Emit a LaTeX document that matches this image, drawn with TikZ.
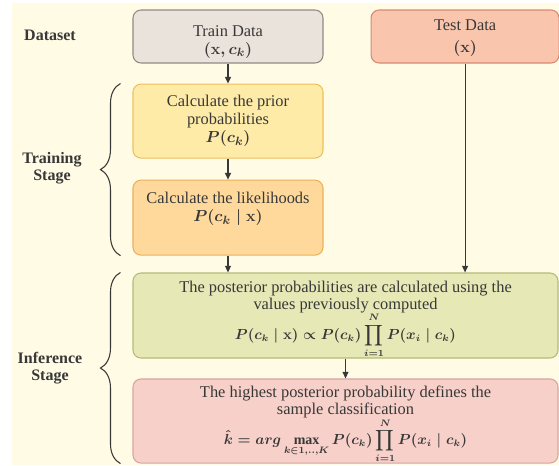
\documentclass[tikz,border=0pt]{standalone}
\usepackage{amsmath}
\usepackage{fontspec}
\setmainfont{Liberation Serif}
\usepackage{tikz}
\usetikzlibrary{arrows.meta,positioning,decorations.pathreplacing,calc}
\definecolor{cream}{HTML}{FFFBE5}
\definecolor{trainfill}{HTML}{EAE3DB}
\definecolor{trainline}{HTML}{908A85}
\definecolor{testfill}{HTML}{F9C5AD}
\definecolor{testline}{HTML}{D98872}
\definecolor{priorfill}{HTML}{FFEBA8}
\definecolor{priorline}{HTML}{EEC060}
\definecolor{likfill}{HTML}{FED99B}
\definecolor{likline}{HTML}{EBB15C}
\definecolor{postfill}{HTML}{E6E8B6}
\definecolor{postline}{HTML}{B5BB78}
\definecolor{decfill}{HTML}{F6D0C9}
\definecolor{decline}{HTML}{D9A5A0}
\definecolor{ink}{HTML}{383838}
\newcommand\tightlines{\lineskiplimit-20pt\relax}
\newcommand\eqsize{\fontsize{10.5}{12}\selectfont}

\begin{document}
\begin{tikzpicture}[x=0.75pt,y=-0.75pt,
  box/.style={rectangle,draw,rounded corners=6pt,line width=0.8pt,align=center,inner sep=2pt,
    text=ink,font=\fontsize{12.3}{13.5}\selectfont\boldmath},
  widebox/.style={box,minimum width=318.75pt,inner ysep=0pt,
    font=\fontsize{12.3}{12.75}\selectfont\boldmath\tightlines},
  flow/.style={-{Triangle[length=5pt,width=4.5pt]},draw=ink,line width=0.8pt},
  stage/.style={align=center,text=ink,font=\bfseries\fontsize{12}{13}\selectfont},
  grp/.style={decorate,decoration={brace,amplitude=15pt,aspect=0.5},draw=ink,line width=0.8pt}]
\useasboundingbox (0,0) rectangle (559,465);
\fill[white] (0,0) rectangle (559,465);
\fill[cream] (12,3) rectangle (559,465);

\node[box,fill=trainfill,draw=trainline,minimum width=142.5pt,minimum height=39.75pt] (train)
  at (228,36.5) {\rule{0pt}{16pt}Train Data\\$(\mathbf{x},c_k)$};
\node[box,fill=testfill,draw=testline,minimum width=141pt,minimum height=39.75pt,
  right=35.25pt of train] (test) {\rule{0pt}{11pt}Test Data\\[3pt]$(\mathbf{x})$};
\node[box,fill=priorfill,draw=priorline,minimum width=142.5pt,minimum height=55.5pt,
  below=15pt of train] (prior) {Calculate the prior\\probabilities\\$P(c_k)$};
\node[box,fill=likfill,draw=likline,minimum width=142.5pt,minimum height=56.25pt,
  below=15.75pt of prior] (lik) {Calculate the likelihoods\\$P(c_k\mid\mathbf{x})$\rule[-16pt]{0pt}{0pt}};
\node[widebox,fill=postfill,draw=postline,minimum height=63.75pt] (post) at (345.5,315.5)
  {\rule{0pt}{14pt}The posterior probabilities are calculated using the\\values previously computed\\[9.75pt]
  {\eqsize$\displaystyle P(c_k\mid\mathbf{x})\propto P(c_k)\prod_{i=1}^{N}P(x_i\mid c_k)$}};
\node[widebox,fill=decfill,draw=decline,minimum height=63pt] (dec) at (345.5,421)
  {\rule{0pt}{14pt}The highest posterior probability defines the\\sample classification\\[9.75pt]
  {\eqsize$\displaystyle \hat{k}=arg\max_{k\in 1,..,K}P(c_k)\prod_{i=1}^{N}P(x_i\mid c_k)$}};

\node[stage] (lds) at (50,35) {Dataset};
\node[stage] (ltr) at (52,168) {Training\\Stage};
\node[stage] (lin) at (50,368) {Inference\\Stage};

\draw[grp] ($(lik.south west)+(-12,0)$) -- ($(prior.north west)+(-12,0)$);
\draw[grp] ($(dec.south west)+(-12,0)$) -- ($(post.north west)+(-12,0)$);

\draw[flow] (train) -- (prior);
\draw[flow] (prior) -- (lik);
\draw[flow] (lik.south) -- (lik.south |- post.north);
\draw[flow] (test.south) -- (test.south |- post.north);
\draw[flow] (post) -- (dec);
\end{tikzpicture}
\end{document}
